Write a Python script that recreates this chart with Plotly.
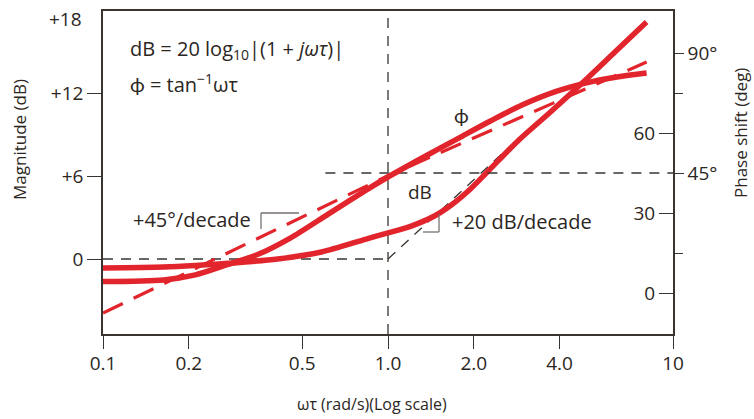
import plotly.graph_objects as go

# ---- data ----
# magnitude curve (dB) vs omega*tau
db_wt = [0.100, 0.163, 0.211, 0.286, 0.410, 0.584, 0.838, 1.0, 1.206, 1.455,
         1.668, 1.929, 2.229, 2.879, 3.717, 4.802, 6.256, 8.078]
db_mag = [-0.65, -0.58, -0.47, -0.29, 0.0, 0.51, 1.45, 1.89, 2.39, 3.12,
          3.92, 5.01, 6.31, 8.64, 10.67, 12.77, 15.02, 17.20]

# phase curve (deg) vs omega*tau
ph_wt = [0.100, 0.163, 0.211, 0.271, 0.352, 0.454, 0.617, 0.838, 1.0, 1.336,
         1.771, 2.287, 2.953, 3.913, 4.926, 6.361, 8.078]
ph_deg = [4.3, 4.9, 6.8, 10.5, 14.6, 20.6, 29.6, 38.6, 43.5, 51.0,
          58.1, 64.5, 70.5, 75.7, 78.7, 81.0, 82.5]

# straight-line approximations
ph_asym_wt = [0.1, 1.0, 8.08]
ph_asym_deg = [-7.5, 44.0, 86.6]
db_flat_wt = [0.1, 1.0]
db_flat = [0.0, 0.0]
db_slope_wt = [1.0, 2.5]
db_slope = [0.0, 7.6]
ph45_wt = [0.603, 10.0]
ph45_deg = [45.0, 45.0]
corner_wt = 1.0

# axes
x_ticks = [0.1, 0.2, 0.5, 1, 2, 4, 10]
x_labels = ["0.1", "0.2", "0.5", "1.0", "2.0", "4.0", "10"]
db_ticks = [0, 6, 12]
db_labels = ["0", "+6", "+12"]
ph_out_ticks = [45, 90]
ph_out_labels = ["45°", "90°"]
ph_minor_ticks = [15, 75]
ph_in_ticks = [0, 30, 60]
ph_in_labels = ["0", "30", "60"]
DB_RANGE = [-5.443, 18.0]
PH_RANGE = [-15.375, 105.75]

RED = "#e2252c"
AX = "#3a3430"
TXT = "#2b2622"
GRAY = "#77716c"
FONT = "'Open Sans', Lato, sans-serif"

fig = go.Figure()

black_dash = dict(color=AX, width=1.3, dash="10px,8px")
fig.add_trace(go.Scatter(x=[corner_wt, corner_wt], y=DB_RANGE, mode="lines",
                         line=black_dash, yaxis="y", hoverinfo="skip"))
fig.add_trace(go.Scatter(x=db_flat_wt, y=db_flat, mode="lines",
                         line=black_dash, yaxis="y", hoverinfo="skip"))
fig.add_trace(go.Scatter(x=db_slope_wt, y=db_slope, mode="lines",
                         line=black_dash, yaxis="y", hoverinfo="skip"))
fig.add_trace(go.Scatter(x=ph45_wt, y=ph45_deg, mode="lines",
                         line=black_dash, yaxis="y2", hoverinfo="skip"))

fig.add_trace(go.Scatter(x=ph_asym_wt, y=ph_asym_deg, mode="lines",
                         line=dict(color=RED, width=3.2, dash="22px,12px"),
                         yaxis="y2"))
fig.add_trace(go.Scatter(x=db_wt, y=db_mag, mode="lines",
                         line=dict(color=RED, width=5.5, shape="spline", smoothing=0.8),
                         yaxis="y"))
fig.add_trace(go.Scatter(x=ph_wt, y=ph_deg, mode="lines",
                         line=dict(color=RED, width=5.5, shape="spline", smoothing=0.8),
                         yaxis="y2"))
# invisible traces so the extra phase axes are rendered
fig.add_trace(go.Scatter(x=[1], y=[0], yaxis="y3", mode="markers",
                         marker=dict(opacity=0), hoverinfo="skip"))
fig.add_trace(go.Scatter(x=[1], y=[0], yaxis="y4", mode="markers",
                         marker=dict(opacity=0), hoverinfo="skip"))

PW, PH, L, T = 570.0, 323.0, 103.0, 11.0


def px(xp):
    return (xp - L) / PW


def py(yp):
    return (T + PH - yp) / PH


def ann(text, x, y, size=18, xanchor="center", angle=0, **kw):
    fig.add_annotation(text=text, x=px(x), y=py(y), xref="paper", yref="paper",
                       showarrow=False, xanchor=xanchor, yanchor="middle",
                       textangle=angle, font=dict(family=FONT, size=size, color=TXT), **kw)


ann("dB = 20 log<sub>10</sub>|(1 + <i>jωτ</i>)|", 128, 50, size=20, xanchor="left")
ann("ϕ = tan<sup>−1</sup>ωτ", 128, 83, size=20, xanchor="left")
ann("ϕ", 461, 115, size=20)
ann("dB", 420, 192, size=19)
ann("+45°/decade", 192, 220, size=20)
ann("+20 dB/decade", 450, 221, size=20, xanchor="left")
ann("+18", 84, 19, size=19, xanchor="right")
ann("Magnitude (dB)", 20, 140, size=17, angle=-90)
ann("Phase shift (deg)", 740, 133, size=17, angle=-90)
ann("ωτ (rad/s)(Log scale)", 372, 404, size=16)


def seg(x0, y0, x1, y1):
    fig.add_shape(type="line", xref="paper", yref="paper",
                  x0=px(x0), y0=py(y0), x1=px(x1), y1=py(y1),
                  line=dict(color=GRAY, width=1.3))


# slope brackets
seg(261, 213, 299, 213)
seg(261, 213, 261, 229)
seg(439, 214, 439, 232)
seg(423, 232, 439, 232)

fig.update_layout(
    width=754, height=419,
    margin=dict(l=103, r=81, t=11, b=85, autoexpand=False),
    plot_bgcolor="white", paper_bgcolor="white",
    showlegend=False,
    font=dict(family=FONT, size=18, color=TXT),
    xaxis=dict(type="log", range=[-1, 1], tickvals=x_ticks, ticktext=x_labels,
               ticks="outside", ticklen=13, tickwidth=1.3, tickcolor=AX,
               showline=True, linecolor=AX, linewidth=1.5, mirror=True,
               showgrid=False, zeroline=False, tickfont=dict(size=19),
               ticklabelstandoff=-2),
    yaxis=dict(range=DB_RANGE, tickvals=db_ticks, ticktext=db_labels,
               ticks="outside", ticklen=14, tickwidth=1.3, tickcolor=AX,
               showline=True, linecolor=AX, linewidth=1.5,
               showgrid=False, zeroline=False, tickfont=dict(size=19)),
    yaxis2=dict(range=PH_RANGE, overlaying="y", side="right", anchor="x",
                tickvals=ph_out_ticks, ticktext=ph_out_labels,
                ticks="outside", ticklen=9, tickwidth=1.3, tickcolor=AX,
                showline=True, linecolor=AX, linewidth=1.5,
                showgrid=False, zeroline=False, tickfont=dict(size=19)),
    yaxis3=dict(range=PH_RANGE, overlaying="y", anchor="free", position=1.0,
                side="left", tickvals=ph_in_ticks, ticktext=ph_in_labels,
                ticks="outside", ticklen=14, tickwidth=1.3, tickcolor=AX,
                showline=False, showgrid=False, zeroline=False,
                tickfont=dict(size=19)),
    yaxis4=dict(range=PH_RANGE, overlaying="y", side="right", anchor="x",
                tickvals=ph_minor_ticks, showticklabels=False,
                ticks="outside", ticklen=9, tickwidth=1.3, tickcolor=AX,
                showline=False, showgrid=False, zeroline=False),
)

fig.write_html("out.html", config={"displayModeBar": False},
               post_script="document.body.style.margin='0px';")
